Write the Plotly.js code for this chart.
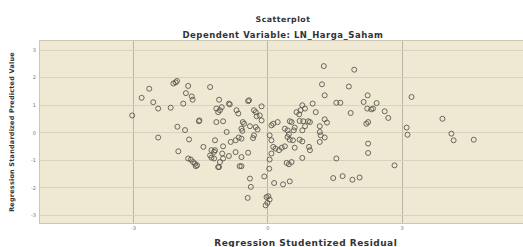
<!DOCTYPE html>
<html>
<head>
<meta charset="utf-8">
<script src="https://cdn.plot.ly/plotly-3.0.1.min.js"></script>
<style>
html,body{margin:0;padding:0;background:#fff;}
#chart{width:523px;height:247px;}
#chart .gtitle{letter-spacing:0.5px;}
#chart .annotation[data-index="0"] text{letter-spacing:0.5px;}
#chart .annotation[data-index="1"] text{letter-spacing:0.5px;}
#chart .ytitle{letter-spacing:0.2px;}
</style>
</head>
<body>
<div id="chart"></div>
<script>
// Regression Studentized Residual (x) vs Regression Standardized Predicted Value (y)
const residual = [
 -3.03,-2.65,-2.82,-2.56,-2.45,-2.17,-2.06,-2.03,-2.11,-1.78,
 -1.83,-1.70,-1.68,-1.89,-1.29,-1.54,-2.02,-1.85,-2.45,-1.76,
 -2.00,-1.44,-1.26,-1.20,-1.29,-1.26,-1.20,-1.78,-1.72,-1.67,
 -1.63,-1.58,-1.61,-1.11,-1.09,-1.15,-1.07,-1.03,-1.11,-0.87,
 -1.00,-1.15,-0.44,-0.14,-0.70,-0.66,-0.31,-0.27,-0.25,-0.18,
 -0.14,-0.56,-0.53,-0.59,-0.57,-0.40,-0.27,-0.23,-0.31,-0.33,
 -0.92, 0.08, 0.12, 0.22, 0.49, 0.38, 0.44, 0.44, 0.47, 0.58,
 -0.83,-0.72,-0.65,-0.59,-1.00,-1.18,-1.02,-1.00,-1.07,-1.09,
 -0.87,-0.72,-0.44,-0.59,-0.63,-0.59, 0.04, 0.08, 0.12, 0.17,
  0.25, 0.31, 0.38, 0.04, 0.08, 0.03,-0.08, 0.14, 0.34, 0.49,
 -0.40,-0.38,-0.45,-0.03, 0.04,-0.01,-0.05, 0.01, 0.42, 0.47,
  0.53,-1.18, 1.25, 1.93, 1.21, 1.27, 1.81, 1.53, 1.62, 2.23,
  2.14, 2.22, 1.85, 0.77, 0.83, 0.73, 1.00, 1.07, 0.64, 0.70,
  0.71, 0.79, 0.90, 0.94, 0.83, 0.53, 1.27, 1.32, 1.16, 1.16,
  1.18, 0.60, 0.77, 0.49, 0.56, 0.71, 0.77, 1.27, 1.16, 0.60,
  0.92, 0.94, 0.77, 1.53, 2.24, 2.24, 2.24, 1.46, 1.67, 1.89,
  2.05, 2.43, 2.31, 2.35, 2.61, 2.69, 3.21, 2.20, 3.10, 3.12,
  2.83, 3.90, 4.10, 4.15, 4.60,-0.42,-0.85,-1.53
];
const predicted = [
  0.63, 1.60, 1.27, 1.11, 0.88, 0.91, 1.83, 1.88, 1.79, 1.70,
  1.44, 1.32, 1.20, 1.06, 1.66, 0.42, 0.22, 0.10,-0.17,-0.24,
 -0.67,-0.51,-0.63,-0.69,-0.82,-0.90,-0.93,-0.93,-0.97,-1.06,
 -1.12,-1.18,-1.21,-1.24, 1.20, 0.88, 0.82, 0.93, 0.75, 1.06,
  0.42, 0.39, 1.15, 0.96, 0.82, 0.70, 0.82, 0.75, 0.60, 0.63,
  0.45, 0.39, 0.33, 0.15, 0.07, 0.24, 0.21, 0.12,-0.09,-0.19,
  0.03, 0.27, 0.33, 0.39, 0.42, 0.15, 0.09,-0.15,-0.05, 0.09,
 -0.33,-0.27,-0.17,-0.21,-0.49,-0.63,-0.75,-0.93,-1.06,-1.24,
 -0.84,-0.70,-0.72,-0.88,-1.21,-1.21,-0.09,-0.27,-0.51,-0.57,
 -0.63,-0.54,-0.49,-0.97,-0.75,-1.30,-1.58,-1.82,-1.87,-1.76,
 -1.66,-1.96,-2.36,-2.33,-2.42,-2.54,-2.63,-2.30,-1.09,-1.14,
 -1.06,-0.27, 2.42, 2.29, 1.76, 1.36, 1.68, 1.09, 1.09, 1.36,
  1.12, 0.88, 0.72, 1.00, 0.88, 0.82, 1.06, 0.75, 0.75, 0.67,
  0.43, 0.42, 0.42, 0.39, 0.24, 0.39, 0.49, 0.37, 0.24, 0.03,
 -0.09, 0.19, 0.09,-0.25,-0.27,-0.25,-0.31,-0.17,-0.33,-0.54,
 -0.51,-0.63,-0.91,-0.93, 0.39,-0.39,-0.73,-1.64,-1.57,-1.70,
 -1.62, 1.08, 0.85, 0.88, 0.78, 0.54, 1.30, 0.33, 0.19,-0.07,
 -1.18, 0.51,-0.03,-0.27,-0.25, 1.18, 1.03, 0.45
];
const xTicks = [-3, 0, 3];
const xTickLabels = ['-3', '0', '3'];
const yTicks = [-3, -2, -1, 0, 1, 2, 3];
const yTickLabels = ['-3', '-2', '-1', '0', '1', '2', '3'];

const font = 'DejaVu Sans, Verdana, sans-serif';
const trace = {
  type: 'scatter', mode: 'markers', x: residual, y: predicted,
  marker: {symbol: 'circle-open', size: 5, color: '#5a594f', line: {width: 0.9, color: '#5a594f'}},
  hoverinfo: 'x+y'
};
const layout = {
  width: 523, height: 247,
  margin: {l: 40, r: 0, t: 40.5, b: 24.3, pad: 0},
  paper_bgcolor: '#ffffff', plot_bgcolor: '#EFE9D4',
  showlegend: false,
  font: {family: font, color: '#222'},
  title: {text: '<b>Scatterplot</b>', font: {size: 7.8, family: font, color: '#333'}, x: 283/523, xanchor: 'center', y: 1 - 19/247, yanchor: 'middle', yref: 'container', xref: 'container'},
  annotations: [
    {text: '<b>Dependent Variable: LN_Harga_Saham</b>', xref: 'paper', yref: 'paper', x: (283-40)/483, y: (222.7-34)/182.2, xanchor: 'center', yanchor: 'middle', showarrow: false, font: {size: 8.5, family: font, color: '#333'}},
    {text: '<b>Regression Studentized Residual</b>', xref: 'paper', yref: 'paper', x: (305-40)/483, y: (222.7-243)/182.2, xanchor: 'center', yanchor: 'middle', showarrow: false, font: {size: 9, family: font, color: '#333'}}
  ],
  xaxis: {
    range: [-5.09, 5.7], tickvals: xTicks, ticktext: xTickLabels,
    showgrid: true, gridcolor: '#BAB6A6', gridwidth: 1, zeroline: false,
    showline: true, mirror: true, linecolor: '#CCC7B3', linewidth: 1,
    ticks: '', tickfont: {size: 5, color: '#777', family: font},
    automargin: false
  },
  yaxis: {
    range: [-3.27, 3.33], tickvals: yTicks, ticktext: yTickLabels,
    showgrid: true, gridcolor: '#D9D3BD', gridwidth: 1, zeroline: false,
    showline: true, mirror: true, linecolor: '#CCC7B3', linewidth: 1,
    ticks: '', ticklabelstandoff: 2, tickfont: {size: 5, color: '#777', family: font},
    title: {text: '<b>Regression Standardized Predicted Value</b>', font: {size: 6.5, family: font, color: '#333'}, standoff: 15},
    automargin: false
  }
};
Plotly.newPlot('chart', [trace], layout, {displayModeBar: false, staticPlot: true});
</script>
</body>
</html>
